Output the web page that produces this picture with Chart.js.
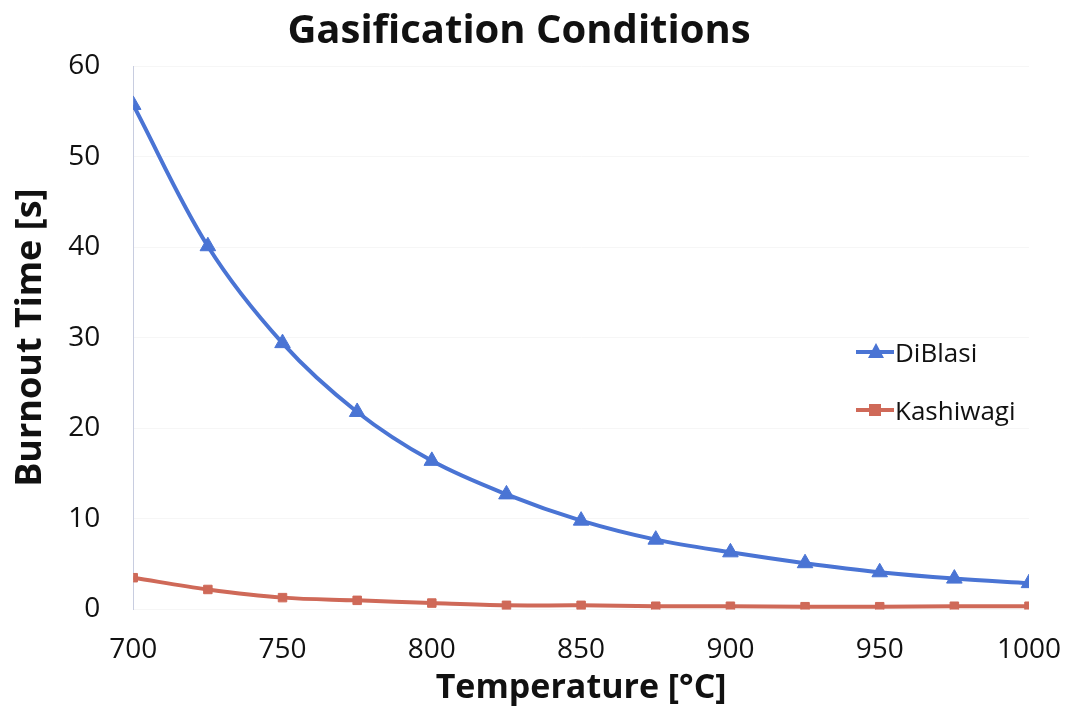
<!DOCTYPE html>
<html>
<head>
<meta charset="utf-8">
<script src="https://cdn.jsdelivr.net/npm/chart.js@4/dist/chart.umd.min.js"></script>
<style>
    html, body { margin: 0; padding: 0; background: #fff; }
    #wrap { position: relative; width: 1067px; height: 709px; }
    #legend { position: absolute; left: 856px; top: 323px; font-family: 'Open Sans', sans-serif; font-size: 26px; color: #111; }
    .item { display: flex; align-items: center; height: 58px; }
    .key { position: relative; width: 38px; height: 14px; margin-right: 1px; }
    .key .ln { position: absolute; left: 0; right: 0; top: 5px; height: 4px; }
</style>
</head>
<body>
<div id="wrap">
    <canvas id="chart" width="1067" height="709"></canvas>
    <div id="legend"></div>
</div>
<script>
const temps = [700, 725, 750, 775, 800, 825, 850, 875, 900, 925, 950, 975, 1000];
const diblasi = [55.7, 40.1, 29.4, 21.8, 16.4, 12.7, 9.8, 7.7, 6.3, 5.1, 4.1, 3.4, 2.9];
const kashiwagi = [3.5, 2.2, 1.3, 1.0, 0.7, 0.45, 0.45, 0.35, 0.35, 0.3, 0.3, 0.35, 0.35];
const seriesNames = ['DiBlasi', 'Kashiwagi'];
const blue = '#4a74d4';
const red = '#cf6958';

const toPoints = (vals) => vals.map((v, i) => ({ x: temps[i], y: v }));

// tick padding in chart.js also pads the overhang, so the gap to the axis
// is made with an invisible tick mark instead
const ctx = document.getElementById('chart').getContext('2d');
const chart = new Chart(ctx, {
    type: 'line',
    data: {
        datasets: [{
            label: seriesNames[0],
            data: toPoints(diblasi),
            borderColor: blue,
            backgroundColor: blue,
            borderWidth: 4,
            tension: 0.35,
            pointStyle: 'triangle',
            pointRadius: 9,
            pointBorderWidth: 1
        }, {
            label: seriesNames[1],
            data: toPoints(kashiwagi),
            borderColor: red,
            backgroundColor: red,
            borderWidth: 4,
            tension: 0.35,
            pointStyle: 'rect',
            pointRadius: 6,
            pointBorderWidth: 1
        }]
    },
    options: {
        responsive: false,
        animation: false,
        layout: { padding: { top: 0, right: 38, bottom: 0, left: 9 } },
        scales: {
            x: {
                type: 'linear',
                min: 700,
                max: 1000,
                ticks: {
                    stepSize: 50,
                    color: '#111',
                    font: { family: 'Open Sans', size: 28, lineHeight: 1.1 },
                    padding: 3,
                    callback: (v) => String(v)
                },
                grid: { color: 'transparent', drawTicks: true, tickLength: 22, tickColor: 'transparent' },
                border: { display: false },
                title: { display: true, text: 'Temperature [°C]', color: '#111', font: { family: 'Open Sans', size: 34, weight: 'bold' }, padding: { top: 0, bottom: 0 } }
            },
            y: {
                min: 0,
                max: 60,
                ticks: { stepSize: 10, color: '#111', font: { family: 'Open Sans', size: 28, lineHeight: 1.1 }, padding: 3 },
                grid: { color: 'rgba(0,0,0,0.035)', drawTicks: true, tickLength: 30, tickColor: 'transparent' },
                border: { display: true, color: '#c8cde0', width: 1 },
                title: { display: true, text: 'Burnout Time [s]', color: '#111', font: { family: 'Open Sans', size: 36, weight: 'bold' }, padding: { top: 0, bottom: 13 } }
            }
        },
        plugins: {
            legend: { display: false },
            tooltip: { enabled: false },
            title: {
                display: true,
                text: 'Gasification Conditions',
                color: '#111',
                font: { family: 'Open Sans', size: 40, weight: 'bold' },
                padding: { top: 8, bottom: 10 }
            }
        }
    }
});

// html legend, sits inside the plot area on the right
const legend = document.getElementById('legend');
chart.data.datasets.forEach((ds) => {
    const item = document.createElement('div');
    item.className = 'item';
    const key = document.createElement('div');
    key.className = 'key';
    const ln = document.createElement('div');
    ln.className = 'ln';
    ln.style.background = ds.borderColor;
    key.appendChild(ln);
    const mk = document.createElement('div');
    mk.style.position = 'absolute';
    mk.style.left = '12px';
    if (ds.pointStyle === 'triangle') {
        mk.style.top = '-2px';
        mk.style.width = '0';
        mk.style.height = '0';
        mk.style.borderLeft = '8px solid transparent';
        mk.style.borderRight = '8px solid transparent';
        mk.style.borderBottom = '15px solid ' + ds.borderColor;
    } else {
        mk.style.top = '1px';
        mk.style.left = '13px';
        mk.style.width = '12px';
        mk.style.height = '12px';
        mk.style.background = ds.borderColor;
    }
    key.appendChild(mk);
    const txt = document.createElement('span');
    txt.textContent = ds.label;
    item.appendChild(key);
    item.appendChild(txt);
    legend.appendChild(item);
});
</script>
</body>
</html>
